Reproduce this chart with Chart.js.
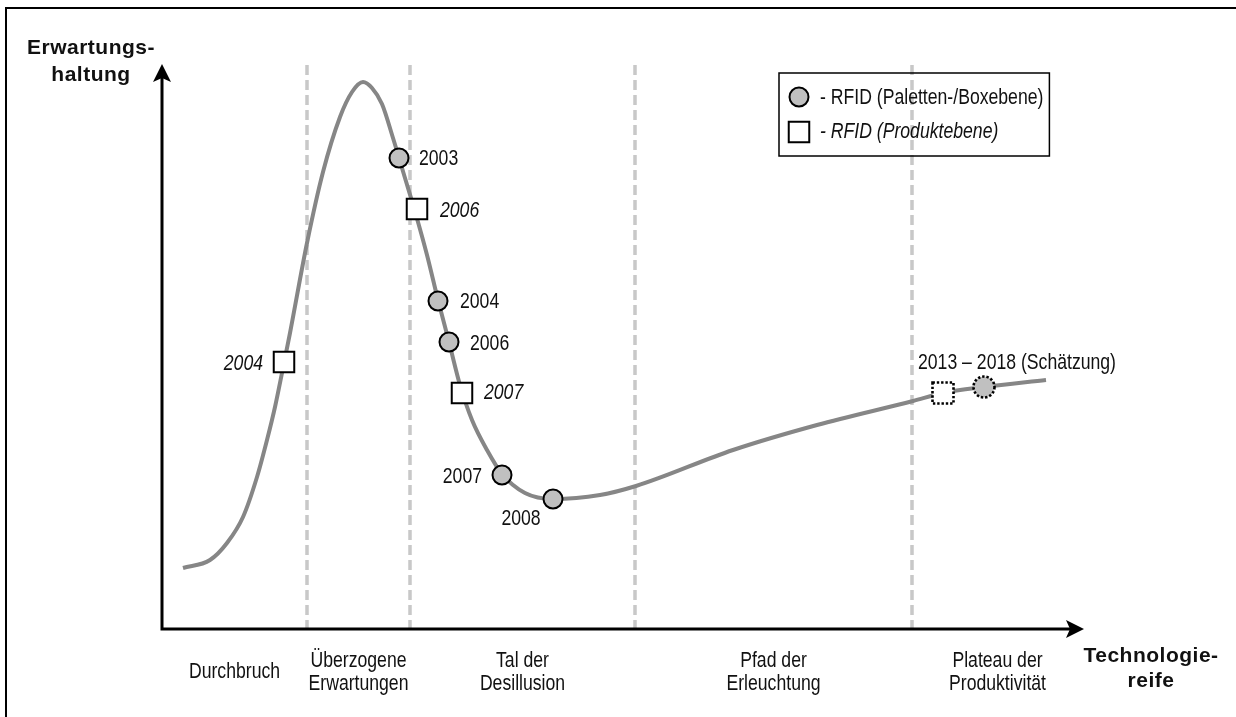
<!DOCTYPE html>
<html>
<head>
<meta charset="utf-8">
<title>Hype-Zyklus RFID</title>
<script src="https://cdn.jsdelivr.net/npm/chart.js@4.4.1/dist/chart.umd.min.js"></script>
<style>
  html, body { margin: 0; padding: 0; background: #ffffff; }
  canvas { display: block; }
</style>
</head>
<body>
<canvas id="hype" width="1236" height="717"></canvas>
<script>
// Hype-Zyklus: Technologiereife (x) gegen Erwartungshaltung (y)
const curveX = [2.1, 4.8, 6.5, 8.1, 9.5, 10.5, 11.3, 12.2, 12.8, 14.5, 16.1, 17.8, 19.0, 20.1, 21.0, 22.0, 23.1, 24.3, 25.4, 26.5, 27.6, 28.7, 29.8, 31.0, 32.5, 34.0, 36.3, 39.1, 43.8, 47.4, 57.1, 65.5, 75.1, 78.1, 82.2, 88.4];
const curveY = [6.1, 6.9, 8.6, 11.2, 15.2, 18.9, 22.2, 26.6, 29.6, 38.6, 45.7, 51.2, 53.7, 54.7, 54.1, 52.5, 49.1, 45.1, 41.4, 37.4, 32.9, 28.7, 24.4, 20.9, 17.9, 15.5, 13.6, 13.0, 13.4, 14.3, 17.9, 20.4, 22.8, 23.6, 24.2, 24.9];

// RFID auf Paletten-/Boxebene
const palletYears = ['2003', '2004', '2006', '2007', '2008'];
const palletX = [23.7, 27.6, 28.7, 34.0, 39.1];
const palletY = [47.1, 32.8, 28.7, 15.4, 13.0];

// RFID auf Produktebene
const productYears = ['2004', '2006', '2007'];
const productX = [12.2, 25.5, 30.0];
const productY = [26.7, 42.0, 23.6];

// Schätzung 2013 – 2018
const forecastLabel = '2013 – 2018 (Schätzung)';
const forecastProductX = [78.1];
const forecastProductY = [23.6];
const forecastPalletX = [82.2];
const forecastPalletY = [24.2];

// Phasen
const phaseBounds = [14.5, 24.8, 47.3, 75.0];
const phaseLabels = [
  ['Durchbruch'],
  ['Überzogene', 'Erwartungen'],
  ['Tal der', 'Desillusion'],
  ['Pfad der', 'Erleuchtung'],
  ['Plateau der', 'Produktivität']
];
const legendLabels = ['- RFID (Paletten-/Boxebene)', '- RFID (Produktebene)'];
const xMax = 92.1;
const yMax = 56.4;

const SANS = "'Liberation Sans', Arial, Helvetica, sans-serif";
const NARROW_SCALE = 0.82;   // condensed look of the labels
const TEXT_SIZE = 21.5;

const toPoints = (xs, ys) => xs.map((x, i) => ({ x: x, y: ys[i] }));

// Phase centres for the phase names below the x axis
const edges = [0].concat(phaseBounds, [xMax]);
const phaseCenters = phaseLabels.map((_, i) => (edges[i] + edges[i + 1]) / 2);

// Vertical dashed phase separators as one broken line
const separatorPoints = [];
phaseBounds.forEach(b => {
  separatorPoints.push({ x: b, y: yMax }, { x: b, y: 0 }, { x: b, y: null });
});

// Dotted marker images for the estimate
function dottedMarker(shape) {
  const c = document.createElement('canvas');
  c.width = 30; c.height = 30;
  const g = c.getContext('2d');
  g.lineWidth = 2.6;
  g.strokeStyle = '#000';
  g.setLineDash([2.4, 1.9]);
  if (shape === 'circle') {
    g.fillStyle = '#c0c0c0';
    g.beginPath();
    g.arc(15, 15, 10.5, 0, Math.PI * 2);
    g.fill();
    g.stroke();
  } else {
    g.fillStyle = '#ffffff';
    g.fillRect(4.5, 4.5, 21, 21);
    g.strokeRect(4.5, 4.5, 21, 21);
  }
  return c;
}

// Condensed text: regular sans squeezed horizontally
function narrowText(ctx, text, x, y, align, italic) {
  ctx.save();
  ctx.font = (italic ? 'italic ' : '') + TEXT_SIZE + 'px ' + SANS;
  ctx.textAlign = align;
  ctx.textBaseline = 'middle';
  ctx.translate(x, y);
  ctx.scale(NARROW_SCALE, 1);
  ctx.fillText(text, 0, 0);
  ctx.restore();
}
function narrowWidth(ctx, text, italic) {
  ctx.save();
  ctx.font = (italic ? 'italic ' : '') + TEXT_SIZE + 'px ' + SANS;
  const w = ctx.measureText(text).width * NARROW_SCALE;
  ctx.restore();
  return w;
}

// Year label placement next to each marker
const palletLabelPos = [
  { dx: 20, dy: 1, align: 'left' },
  { dx: 22, dy: 1, align: 'left' },
  { dx: 21, dy: 2, align: 'left' },
  { dx: -20, dy: 2, align: 'right' },
  { dx: -32, dy: 20, align: 'center' }
];
const productLabelPos = [
  { dx: -21, dy: 2, align: 'right' },
  { dx: 23, dy: 2, align: 'left' },
  { dx: 22, dy: 0, align: 'left' }
];

const decorations = {
  id: 'decorations',
  afterDatasetsDraw(chart) {
    const ctx = chart.ctx;
    ctx.save();
    ctx.fillStyle = '#111';

    const drawLabels = (dsIndex, labels, pos, italic) => {
      chart.getDatasetMeta(dsIndex).data.forEach((el, i) => {
        narrowText(ctx, labels[i], el.x + pos[i].dx, el.y + pos[i].dy, pos[i].align, italic);
      });
    };
    drawLabels(2, palletYears, palletLabelPos, false);
    drawLabels(3, productYears, productLabelPos, true);

    const fc = chart.getDatasetMeta(4).data[0];
    narrowText(ctx, forecastLabel, fc.x - 25, fc.y - 30, 'left', false);
    ctx.restore();
  },
  afterDraw(chart) {
    const ctx = chart.ctx;
    const area = chart.chartArea;
    const xScale = chart.scales.x;
    ctx.save();

    // outer frame
    ctx.strokeStyle = '#000';
    ctx.lineWidth = 2;
    ctx.beginPath();
    ctx.moveTo(6, 740);
    ctx.lineTo(6, 8);
    ctx.lineTo(1240, 8);
    ctx.stroke();

    // axes with arrow heads
    ctx.lineWidth = 3;
    ctx.beginPath();
    ctx.moveTo(area.left, area.bottom + 1.5);
    ctx.lineTo(area.left, area.top + 10);
    ctx.moveTo(area.left - 1.5, area.bottom);
    ctx.lineTo(area.right - 8, area.bottom);
    ctx.stroke();
    ctx.fillStyle = '#000';
    ctx.beginPath();
    ctx.moveTo(area.left, area.top - 1);
    ctx.lineTo(area.left + 9, area.top + 17);
    ctx.lineTo(area.left, area.top + 13);
    ctx.lineTo(area.left - 9, area.top + 17);
    ctx.closePath();
    ctx.fill();
    ctx.beginPath();
    ctx.moveTo(area.right + 1, area.bottom);
    ctx.lineTo(area.right - 17, area.bottom - 9);
    ctx.lineTo(area.right - 13, area.bottom);
    ctx.lineTo(area.right - 17, area.bottom + 9);
    ctx.closePath();
    ctx.fill();

    // phase names under the x axis
    ctx.fillStyle = '#111';
    const lineH = 23;
    const firstLine = area.bottom + 32;
    phaseLabels.forEach((lines, i) => {
      const px = xScale.getPixelForValue(phaseCenters[i]);
      const y0 = firstLine + (2 - lines.length) * lineH / 2;
      lines.forEach((t, j) => narrowText(ctx, t, px, y0 + j * lineH, 'center', false));
    });

    // axis titles
    ctx.font = 'bold 21px ' + SANS;
    if ('letterSpacing' in ctx) ctx.letterSpacing = '0.5px';
    ctx.textAlign = 'center';
    ctx.textBaseline = 'middle';
    ctx.fillText('Erwartungs-', 91, 48);
    ctx.fillText('haltung', 91, 75);
    ctx.fillText('Technologie-', 1151, 656);
    ctx.fillText('reife', 1151, 681);
    if ('letterSpacing' in ctx) ctx.letterSpacing = '0px';

    // legend
    const textX = 820;
    const textW = Math.max(narrowWidth(ctx, legendLabels[0], false), narrowWidth(ctx, legendLabels[1], true));
    const box = { x: 779, y: 73, w: textX + textW + 6 - 779, h: 83 };
    ctx.lineWidth = 1.5;
    ctx.strokeStyle = '#000';
    ctx.strokeRect(box.x, box.y, box.w, box.h);
    ctx.lineWidth = 2;
    ctx.fillStyle = '#c0c0c0';
    Chart.helpers.drawPoint(ctx, { pointStyle: 'circle', radius: 9.5, borderWidth: 2, rotation: 0 }, 799, 97);
    ctx.fillStyle = '#ffffff';
    Chart.helpers.drawPoint(ctx, { pointStyle: 'rect', radius: 14.5, borderWidth: 2, rotation: 0 }, 799, 132);
    ctx.fillStyle = '#111';
    narrowText(ctx, legendLabels[0], textX, 98, 'left', false);
    narrowText(ctx, legendLabels[1], textX, 132, 'left', true);
    ctx.restore();
  }
};

new Chart(document.getElementById('hype'), {
  type: 'scatter',
  data: {
    datasets: [
      {
        type: 'line',
        label: 'Hype-Zyklus',
        data: toPoints(curveX, curveY),
        borderColor: '#868686',
        borderWidth: 4,
        pointRadius: 0,
        cubicInterpolationMode: 'monotone',
        fill: false,
        order: 2
      },
      {
        type: 'line',
        label: 'Phasen',
        data: separatorPoints,
        borderColor: '#c8c8c8',
        borderWidth: 3.5,
        borderDash: [10, 5],
        pointRadius: 0,
        spanGaps: false,
        tension: 0,
        fill: false,
        order: 3
      },
      {
        label: 'RFID (Paletten-/Boxebene)',
        data: toPoints(palletX, palletY),
        pointStyle: 'circle',
        pointRadius: 9.5,
        pointBackgroundColor: '#c0c0c0',
        pointBorderColor: '#000',
        pointBorderWidth: 2,
        order: 0
      },
      {
        label: 'RFID (Produktebene)',
        data: toPoints(productX, productY),
        pointStyle: 'rect',
        pointRadius: 14.5,
        pointBackgroundColor: '#ffffff',
        pointBorderColor: '#000',
        pointBorderWidth: 2,
        order: 0
      },
      {
        label: 'Schätzung Produktebene',
        data: toPoints(forecastProductX, forecastProductY),
        pointStyle: dottedMarker('rect'),
        order: 1
      },
      {
        label: 'Schätzung Paletten-/Boxebene',
        data: toPoints(forecastPalletX, forecastPalletY),
        pointStyle: dottedMarker('circle'),
        order: 1
      }
    ]
  },
  options: {
    responsive: false,
    animation: false,
    events: [],
    layout: { padding: { left: 162, right: 153, top: 65, bottom: 88 } },
    plugins: {
      legend: { display: false },
      tooltip: { enabled: false }
    },
    scales: {
      x: { type: 'linear', min: 0, max: xMax, display: false },
      y: { type: 'linear', min: 0, max: yMax, display: false }
    }
  },
  plugins: [decorations]
});
</script>
</body>
</html>
